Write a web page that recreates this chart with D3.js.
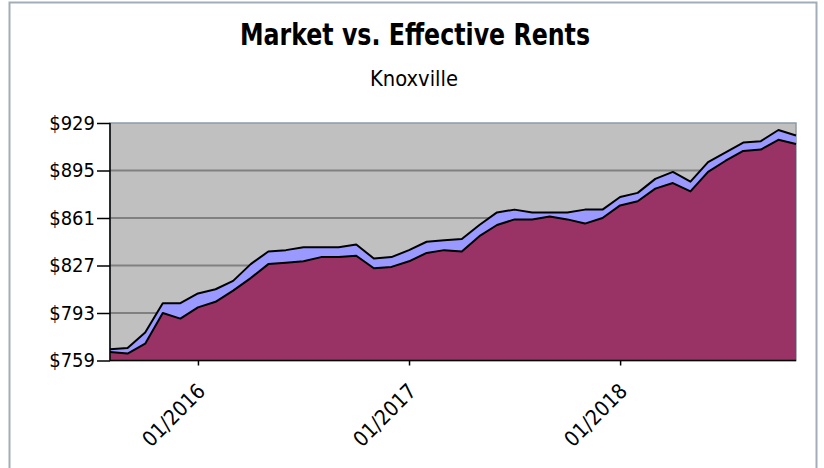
<!DOCTYPE html>
<html>
<head>
<meta charset="utf-8">
<script src="https://cdn.jsdelivr.net/npm/d3@7"></script>
<style>
  body { margin: 0; background: #fff; }
  svg { display: block; }
</style>
</head>
<body>
<div id="chart"><svg width="824" height="468"></svg></div>
<script>
// monthly, Aug 2015 .. Nov 2018
const months = [
  '2015-08', '2015-09', '2015-10', '2015-11', '2015-12',
  '2016-01', '2016-02', '2016-03', '2016-04', '2016-05', '2016-06',
  '2016-07', '2016-08', '2016-09', '2016-10', '2016-11', '2016-12',
  '2017-01', '2017-02', '2017-03', '2017-04', '2017-05', '2017-06',
  '2017-07', '2017-08', '2017-09', '2017-10', '2017-11', '2017-12',
  '2018-01', '2018-02', '2018-03', '2018-04', '2018-05', '2018-06',
  '2018-07', '2018-08', '2018-09', '2018-10', '2018-11',
];
const marketRent = [
  767, 768, 779, 800, 800, 807, 810, 816, 828, 837, 838, 840, 840, 840,
  842, 832, 833, 838, 844, 845, 846, 856, 865, 867, 865, 865, 865, 867,
  867, 876, 879, 889, 894, 887, 901, 908, 915, 916, 924, 920,
];
const effectiveRent = [
  765, 764, 771, 793, 789, 797, 801, 809, 818, 828, 829, 830, 833, 833,
  834, 825, 826, 830, 836, 838, 837, 848, 856, 860, 860, 862, 860, 857,
  861, 870, 873, 882, 886, 880, 894, 902, 909, 910, 917, 914,
];
const yTicks = [759, 793, 827, 861, 895, 929];
const xTicks = ['2016-01', '2017-01', '2018-01'];

const SVG = d3.select('#chart svg');
const LEFT = 110;
const RIGHT = 796;
const TOP = 123;
const BOTTOM = 360.5;
const FONT = '"DejaVu Sans Condensed", "DejaVu Sans", sans-serif';

// outer frame
SVG.append('rect')
  .attr('x', 9.5)
  .attr('y', 2.5)
  .attr('width', 807)
  .attr('height', 480)
  .style('fill', 'none')
  .style('stroke', '#a3adb8')
  .style('stroke-width', 2);

SVG.append('text')
  .attr('x', 415)
  .attr('y', 45)
  .attr('text-anchor', 'middle')
  .attr('textLength', 350)
  .attr('lengthAdjust', 'spacingAndGlyphs')
  .style('font-family', FONT)
  .style('font-weight', 'bold')
  .style('font-size', '30px')
  .text('Market vs. Effective Rents');

SVG.append('text')
  .attr('x', 414)
  .attr('y', 86)
  .attr('text-anchor', 'middle')
  .attr('textLength', 88)
  .attr('lengthAdjust', 'spacingAndGlyphs')
  .style('font-family', FONT)
  .style('font-size', '21px')
  .text('Knoxville');

const X_SCALE = d3
  .scalePoint()
  .domain(months)
  .range([LEFT, RIGHT]);
const Y_SCALE = d3
  .scaleLinear()
  .domain([759, 929])
  .range([BOTTOM, TOP]);

// plot background
SVG.append('rect')
  .attr('x', LEFT)
  .attr('y', TOP)
  .attr('width', RIGHT - LEFT)
  .attr('height', BOTTOM - TOP)
  .style('fill', '#c0c0c0')
  .style('stroke', '#8c9aa6')
  .style('stroke-width', 1.5);

// gridlines
SVG.append('g')
  .selectAll('line')
  .data(yTicks.slice(1, -1))
  .join('line')
  .attr('x1', LEFT)
  .attr('x2', RIGHT)
  .attr('y1', (d) => Y_SCALE(d))
  .attr('y2', (d) => Y_SCALE(d))
  .style('stroke', '#808080')
  .style('stroke-width', 1.8);

const AREA = d3
  .area()
  .x((d, i) => X_SCALE(months[i]))
  .y0(BOTTOM)
  .y1((d) => Y_SCALE(d));
const LINE = d3
  .line()
  .x((d, i) => X_SCALE(months[i]))
  .y((d) => Y_SCALE(d));

[
  [marketRent, '#9999ff'],
  [effectiveRent, '#993366'],
].forEach(([series, color]) => {
  SVG.append('path')
    .datum(series)
    .attr('d', AREA)
    .style('fill', color);
  SVG.append('path')
    .datum(series)
    .attr('d', LINE)
    .style('fill', 'none')
    .style('stroke', '#000')
    .style('stroke-width', 2)
    .style('stroke-linejoin', 'round');
});

// axes
const Y_AXIS = d3
  .axisLeft(Y_SCALE)
  .tickValues(yTicks)
  .tickSize(13)
  .tickPadding(2)
  .tickFormat((d) => `$${d}`);
const Y_AXIS_G = SVG.append('g')
  .attr('transform', `translate(${LEFT}, 0)`)
  .call(Y_AXIS);
Y_AXIS_G.select('.domain').attr('d', `M0,${TOP}V${BOTTOM}`);
Y_AXIS_G.selectAll('text').style('font-size', '20px');

const X_AXIS = d3
  .axisBottom(X_SCALE)
  .tickValues(xTicks)
  .tickSize(5)
  .tickFormat((d) => `${d.slice(5)}/${d.slice(0, 4)}`);
const X_AXIS_G = SVG.append('g')
  .attr('transform', `translate(0, ${BOTTOM})`)
  .call(X_AXIS);
X_AXIS_G.select('.domain').attr('d', `M${LEFT},0H${RIGHT}`);
X_AXIS_G.selectAll('text')
  .attr('y', 0)
  .attr('dy', 0)
  .attr('text-anchor', 'end')
  .attr('transform', 'translate(8, 32) rotate(-45)')
  .style('font-size', '21px');

SVG.selectAll('.tick text')
  .style('font-family', FONT)
  .style('fill', '#000');
SVG.selectAll('.domain, .tick line')
  .style('stroke', '#000')
  .style('stroke-width', 1.5);
</script>
</body>
</html>
